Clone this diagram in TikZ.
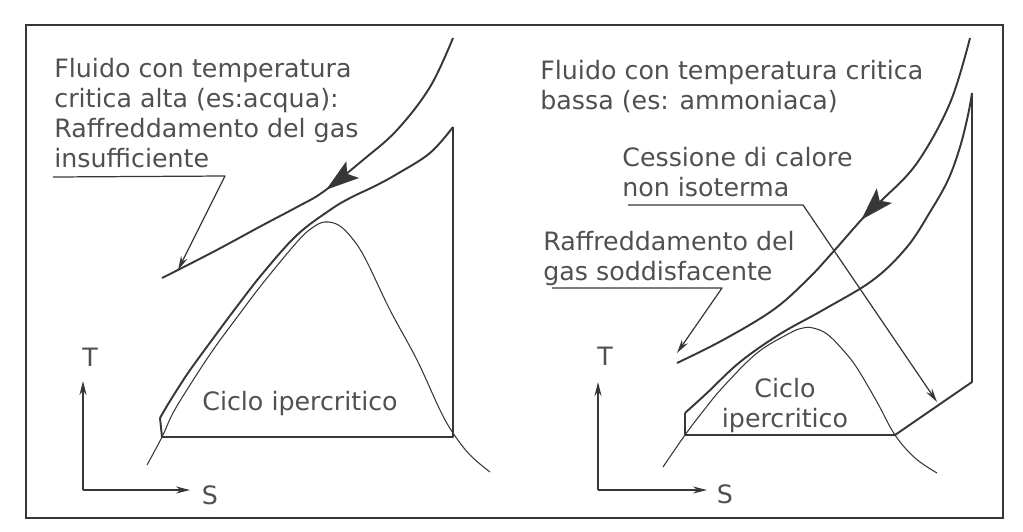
\documentclass[tikz,border=0pt]{standalone}
\usepackage{fontspec}
\setmainfont{DejaVu Sans}
\usetikzlibrary{arrows.meta,decorations.markings}
\definecolor{inkgray}{RGB}{55,55,55}
\definecolor{textgray}{RGB}{80,80,80}

\tikzset{
  notetext/.style={anchor=north west, inner sep=0pt, align=left, text=textgray,
    font=\fontsize{14.4}{17.1}\selectfont},
  fluid/.style={inkgray, line width=1.1pt, postaction={decorate},
    decoration={markings, mark=at position #1 with {\fill[inkgray] (2pt,0) -- (-17pt,6pt) -- (-13pt,0) -- (-17pt,-6pt) -- cycle;}}},
  cyclepath/.style={inkgray, line width=1.1pt, line join=round},
  dome/.style={inkgray, line width=0.6pt},
  pointer/.style={inkgray, line width=0.7pt, line join=round, -{Stealth[length=8pt,width=4pt]}},
  axis/.style={inkgray, line width=0.7pt, -{Stealth[length=8pt,width=4pt]}},
  axisname/.style={inner sep=0pt, text=textgray, font=\fontsize{14.4}{17.1}\selectfont}
}

\begin{document}
\begin{tikzpicture}[x=0.02cm, y=-0.02cm]
  \useasboundingbox (0,0) rectangle (1023,531);

  % Frame
  \draw[inkgray, line width=1.1pt] (26,25) rectangle (1003,518);

  % ---- Left: high critical temperature ----
  \node[notetext] (acquaNote) at (54,58) {Fluido con temperatura\\critica alta (es:acqua):\\Raffreddamento del gas\\insufficiente};
  \coordinate (acquaStart) at (53,177);
  \coordinate (acquaKnee) at (225,176);
  \coordinate (acquaTip) at (178,270);
  \draw[pointer] (acquaStart) -- (acquaKnee) -- (acquaTip);

  % Saturation dome
  \draw[dome] plot[smooth, tension=0.6] coordinates {(147,465) (162,437) (173,413) (190,385) (213,350) (238,316) (263,283) (297,242) (312,228) (325,222) (340,226) (355,242) (367,262) (390,310) (417,360) (440,410) (453,433) (470,455) (490,472)};

  % Cycle
  \draw[cyclepath] (453,127) -- (453,437) -- (162,437) -- (160,418)
    plot[smooth, tension=0.6] coordinates {(160,418) (170,401) (188,373) (209,344) (235,309) (263,273) (297,235) (330,210) (350,198) (375,186) (397,174) (430,153) (453,127)};

  % Fluid line
  \draw[fluid=0.51] plot[smooth, tension=0.6] coordinates {(453,38) (430,87) (397,130) (363,160) (323,192) (297,207) (263,225) (213,252) (162,278)};

  \node[notetext] (cicloL) at (202,391) {Ciclo ipercritico};

  % Axes
  \coordinate (originL) at (83,490);
  \coordinate (topL) at (83,381);
  \coordinate (rightL) at (190,490);
  \draw[axis] (originL) -- (topL);
  \draw[axis] (originL) -- (rightL);
  \node[axisname] (tL) at (90,357) {T};
  \node[axisname] (sL) at (210,495) {S};

  % ---- Right: low critical temperature ----
  \node[notetext] (ammoniacaNote) at (540,60) {Fluido con temperatura critica\\bassa (es: ammoniaca)};
  \node[notetext] (cessioneNote) at (622,147) {Cessione di calore\\non isoterma};
  \node[notetext] (raffNote) at (543,231) {Raffreddamento del\\gas soddisfacente};

  % Saturation dome
  \draw[dome] plot[smooth, tension=0.6] coordinates {(663,467) (685,435) (704,410) (723,387) (757,353) (790,333) (803,328) (813,328) (827,334) (843,350) (857,368) (877,402) (895,435) (915,458) (937,473)};

  % Cycle
  \draw[cyclepath] (972,93) -- (972,382) -- (895,435) -- (685,435) -- (685,413)
    plot[smooth, tension=0.6] coordinates {(685,413) (707,393) (740,362) (780,334) (823,310) (873,280) (907,247) (930,212) (948,180) (960,147) (968,115) (972,93)};

  % Fluid line
  \draw[fluid=0.47] plot[smooth, tension=0.6] coordinates {(970,38) (950,103) (917,163) (882,200) (863,218) (833,252) (807,280) (773,310) (723,340) (677,363)};

  \node[notetext, anchor=north, align=center] (cicloR) at (785,378) {Ciclo\\ipercritico};

  % Pointers
  \coordinate (cessioneStart) at (628,205);
  \coordinate (cessioneKnee) at (803,205);
  \coordinate (cessioneTip) at (937,402);
  \draw[pointer] (cessioneStart) -- (cessioneKnee) -- (cessioneTip);
  \coordinate (raffStart) at (552,288);
  \coordinate (raffKnee) at (722,288);
  \coordinate (raffTip) at (677,353);
  \draw[pointer] (raffStart) -- (raffKnee) -- (raffTip);

  % Axes
  \coordinate (originR) at (598,490);
  \coordinate (topR) at (598,382);
  \coordinate (rightR) at (707,490);
  \draw[axis] (originR) -- (topR);
  \draw[axis] (originR) -- (rightR);
  \node[axisname] (tR) at (605,356) {T};
  \node[axisname] (sR) at (725,494) {S};
\end{tikzpicture}
\end{document}
